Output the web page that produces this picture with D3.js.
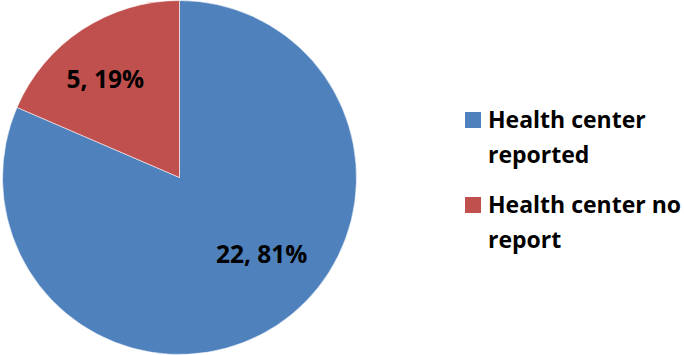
<!DOCTYPE html>
<html>
<head>
<meta charset="utf-8">
<script src="https://cdn.jsdelivr.net/npm/d3@7"></script>
<style>
  html, body { margin: 0; padding: 0; background: #fff; }
  svg { display: block; }
  text { font-family: "Open Sans", Lato, sans-serif; font-weight: bold; fill: #000; }
</style>
</head>
<body>
<svg id="chart" width="684" height="355"></svg>
<script>
// Health center reporting status
const categories = ["Health center reported", "Health center no report"];
const counts = [22, 5];
const legendLines = [["Health center", "reported"], ["Health center no", "report"]];
const colors = ["#4F81BD", "#C0504D"];

const width = 684, height = 355;
const cx = 179.5, cy = 177.5, radius = 177;

const svg = d3.select("#chart");
const total = d3.sum(counts);
const data = categories.map((c, i) => ({ category: c, value: counts[i] }));

const pie = d3.pie().sort(null).value(d => d.value);
const arcs = pie(data);
const arc = d3.arc().innerRadius(0).outerRadius(radius);
const labelArc = d3.arc().innerRadius(radius * 0.65).outerRadius(radius * 0.65);

const g = svg.append("g").attr("transform", `translate(${cx},${cy})`);

g.selectAll("path.slice")
  .data(arcs)
  .join("path")
  .attr("class", "slice")
  .attr("d", arc)
  .attr("fill", (d, i) => colors[i])
  .attr("stroke", "#fff")
  .attr("stroke-width", 0.8)
  .attr("stroke-opacity", 0.7);

// label nudges away from the arc centroid, in pixels
const labelNudge = [[19, -19], [-11, -2]];

g.selectAll("text.value")
  .data(arcs)
  .join("text")
  .attr("class", "value")
  .attr("transform", (d, i) => {
    const [x, y] = labelArc.centroid(d);
    return `translate(${x + labelNudge[i][0]},${y + labelNudge[i][1]})`;
  })
  .attr("text-anchor", "middle")
  .attr("dy", "0.36em")
  .style("font-size", "24.5px")
  .text(d => `${d.value}, ${Math.round(d.value / total * 100)}%`);

// legend
const legend = svg.append("g").attr("transform", "translate(465,0)");
const itemY = [120, 205];
const lineGap = 35;

const items = legend.selectAll("g.item")
  .data(categories)
  .join("g")
  .attr("class", "item")
  .attr("transform", (d, i) => `translate(0,${itemY[i]})`);

items.append("rect")
  .attr("x", 0)
  .attr("y", -8)
  .attr("width", 16)
  .attr("height", 16)
  .attr("fill", (d, i) => colors[i]);

items.each(function(d, i) {
  const t = d3.select(this).append("text")
    .attr("x", 23)
    .attr("y", 0)
    .style("font-size", "23px");
  legendLines[i].forEach((line, j) => {
    t.append("tspan")
      .attr("x", 23)
      .attr("y", j * lineGap)
      .attr("dy", "0.36em")
      .text(line);
  });
});
</script>
</body>
</html>
